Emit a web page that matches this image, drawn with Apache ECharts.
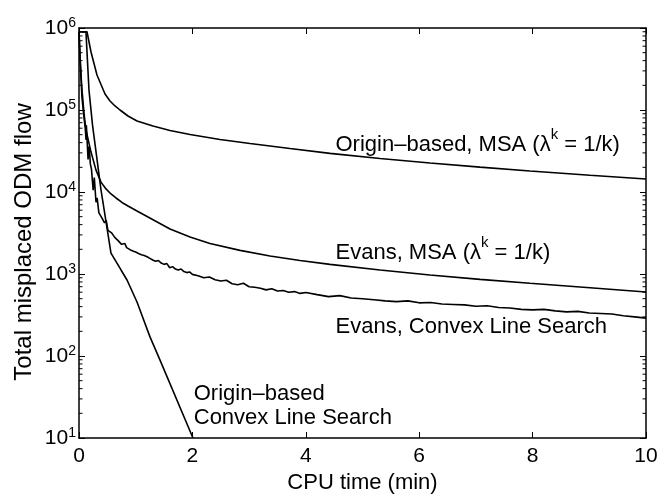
<!DOCTYPE html>
<html><head><meta charset="utf-8">
<script src="https://cdn.jsdelivr.net/npm/echarts@6/dist/echarts.min.js"></script>
<style>html,body{margin:0;padding:0;background:#fff}#c{width:659px;height:494px}</style>
</head><body><div id="c"></div>
<script>
// ---- axis ticks ----
const xTicks = [0, 2, 4, 6, 8, 10];
const yDecades = [10, 100, 1000, 10000, 100000, 1000000];
const minorMultipliers = [2, 3, 4, 5, 6, 7, 8, 9];

// ---- series: [CPU time (min), total misplaced ODM flow] ----
const originMSA = [[0,900000],[0.141,900000],[0.212,510000],[0.317,267000],[0.459,156700],[0.547,128800],
  [0.635,111900],[0.723,100000],[0.864,84500],[1.023,73400],[1.305,63800],[1.605,56200],[1.958,50300],
  [2.487,43700],[3.016,39000],[3.721,33900],[4.427,29600],[5.309,25600],[6.19,22600],[7.072,20100],
  [7.954,18000],[9.012,16000],[10,14400]];

const evansMSA = [[0,900000],[0.0176,469000],[0.0353,267000],[0.0529,175000],[0.0882,91900],[0.123,57000],
  [0.212,30700],[0.300,18500],[0.388,13200],[0.476,10900],[0.564,9460],[0.653,8450],[0.758,7450],
  [0.864,6750],[1.023,5860],[1.605,3540],[1.958,2820],[2.31,2350],[2.84,1940],[3.369,1660],[3.898,1460],
  [4.427,1310],[5.309,1120],[6.19,973],[7.072,861],[7.954,770],[9.012,679],[10,603]];

const originCLS = [[0,900000],[0.123,890000],[0.176,175000],[0.238,66000],[0.388,10600],[0.564,1800],
  [0.741,1120],[0.847,845],[1.023,456],[1.252,171],[1.429,89],[2.01,10]];

const evansCLS = [[0,900000],[0.02,410000],[0.05,150000],[0.08,90000],[0.11,60000],[0.125,43000],[0.13,65000],
  [0.16,25000],[0.18,36000],[0.20,22000],[0.22,19000],[0.25,10500],[0.27,15000],[0.30,7500],[0.32,8500],
  [0.35,5600],[0.38,5900],[0.42,4600],[0.45,4200],[0.48,4500],[0.51,3400],[0.54,3500],[0.57,3200],
  [0.60,3000],[0.63,2800],[0.66,2900],[0.69,2550],[0.72,2600],[0.75,2300],[0.78,2250],[0.81,2350],
  [0.84,2100],[0.87,2150],[0.90,1980],[0.93,2050],[0.96,1900],[1.00,1850],[1.05,1780],[1.10,1720],
  [1.15,1680],[1.20,1620],[1.25,1550],[1.30,1480],[1.35,1430],[1.40,1460],[1.45,1360],[1.50,1310],
  [1.55,1340],[1.60,1190],[1.65,1230],[1.70,1150],[1.75,1120],[1.80,1150],[1.85,1070],[1.90,1040],
  [1.95,1060],[2.00,990],[2.1,950],[2.2,900],[2.3,920],[2.4,850],[2.5,820],[2.6,840],[2.7,760],
  [2.8,740],[2.9,770],[3.0,700],[3.1,690],[3.2,670],[3.3,640],[3.4,660],[3.5,620],[3.6,630],[3.7,600],
  [3.8,610],[3.9,580],[4.0,595],[4.2,560],[4.4,530],[4.6,545],[4.8,510],[5.0,500],[5.2,485],[5.4,470],
  [5.6,460],[5.8,470],[6.0,445],[6.2,450],[6.4,430],[6.6,425],[6.8,420],[7.0,405],[7.2,410],[7.4,390],
  [7.6,385],[7.8,370],[8.0,365],[8.2,370],[8.4,355],[8.6,345],[8.8,350],[9.0,335],[9.2,330],[9.4,325],
  [9.6,310],[9.8,300],[10.0,290]];

// ---- annotation anchors (data coordinates) ----
const labelOriginMSA = [4.515, 37400];
const labelEvansMSA = [4.515, 1786];
const labelEvansCLS = [4.515, 226];
const labelOriginCLS = [2.015, 24.5];

const FONT = 'Liberation Sans, Arial, Helvetica, sans-serif';
const minorTickValues = [];
yDecades.slice(0, -1).forEach(d => minorMultipliers.forEach(m => minorTickValues.push([0, d * m])));

const annRich = {
  t: { fontSize: 22, fontFamily: FONT, color: '#000', lineHeight: 36 },
  s: { fontSize: 15, fontFamily: FONT, color: '#000', lineHeight: 14, verticalAlign: 'top' }
};
function mark(coord, text, rich) {
  return {
    symbol: 'circle', symbolSize: 1, silent: true,
    itemStyle: { color: 'rgba(0,0,0,0)' },
    label: { show: true, position: 'right', distance: 0, formatter: text, rich: rich, color: '#000' },
    data: [{ coord: coord }]
  };
}
function line(name, data, ann) {
  return {
    name: name, type: 'line', data: data, showSymbol: false, symbol: 'none', smooth: false,
    lineStyle: { color: '#000', width: 1.6 }, itemStyle: { color: '#000' },
    markPoint: ann, z: 3
  };
}

const axisCommonX = { type: 'value', min: 0, max: 10, interval: 2, splitLine: { show: false } };
const axisCommonY = { type: 'log', logBase: 10, min: 10, max: 1000000, splitNumber: 5, splitLine: { show: false } };

const chart = echarts.init(document.getElementById('c'), null, { renderer: 'canvas' });
chart.setOption({
  animation: false,
  backgroundColor: '#fff',
  grid: { left: 79, right: 13, top: 28, bottom: 56, containLabel: false, outerBoundsMode: 'none' },
  xAxis: [
    Object.assign({}, axisCommonX, {
      position: 'bottom',
      axisLine: { show: true, lineStyle: { color: '#000', width: 1.5 } },
      axisTick: { show: true, inside: true, length: 6, lineStyle: { color: '#000', width: 1 } },
      axisLabel: { color: '#000', fontSize: 21, fontFamily: FONT, margin: 8, customValues: xTicks },
      name: 'CPU time (min)', nameLocation: 'middle', nameGap: 27,
      nameTextStyle: { color: '#000', fontSize: 22, fontFamily: FONT }
    }),
    Object.assign({}, axisCommonX, {
      position: 'top',
      axisLine: { show: true, onZero: false, lineStyle: { color: '#000', width: 1.5 } },
      axisTick: { show: true, inside: true, length: 6, lineStyle: { color: '#000', width: 1 } },
      axisLabel: { show: false }
    })
  ],
  yAxis: [
    Object.assign({}, axisCommonY, {
      position: 'left',
      axisLine: { show: true, onZero: false, lineStyle: { color: '#000', width: 1.5 } },
      axisTick: { show: true, inside: true, length: 6, lineStyle: { color: '#000', width: 1 } },
      axisLabel: {
        color: '#000', margin: 3,
        formatter: v => '{b|10}{s|' + Math.round(Math.log10(v)) + '}',
        rich: {
          b: { fontSize: 21, fontFamily: FONT, color: '#000', lineHeight: 24 },
          s: { fontSize: 14, fontFamily: FONT, color: '#000', lineHeight: 14, verticalAlign: 'top' }
        }
      }
    }),
    Object.assign({}, axisCommonY, {
      position: 'right',
      axisLine: { show: true, onZero: false, lineStyle: { color: '#000', width: 1.5 } },
      axisTick: { show: true, inside: true, length: 6, lineStyle: { color: '#000', width: 1 } },
      axisLabel: { show: false }
    })
  ],
  graphic: [{
    type: 'text', x: 24, y: 242, rotation: Math.PI / 2,
    style: { text: 'Total misplaced ODM flow', font: '24px ' + FONT, fill: '#000',
      textAlign: 'center', textVerticalAlign: 'middle' }
  }],
  series: [
    line('Origin-based, MSA', originMSA,
      mark(labelOriginMSA, '{t|Origin–based, MSA (λ}{s|k}{t| = 1/k)}', annRich)),
    line('Evans, MSA', evansMSA,
      mark(labelEvansMSA, '{t|Evans, MSA (λ}{s|k}{t| = 1/k)}', annRich)),
    line('Evans, Convex Line Search', evansCLS,
      mark(labelEvansCLS, '{t|Evans, Convex Line Search}', annRich)),
    line('Origin-based, Convex Line Search', originCLS,
      mark(labelOriginCLS, '{t|Origin–based}\n{t|Convex Line Search}',
        { t: { fontSize: 22, fontFamily: FONT, color: '#000', lineHeight: 24, align: 'left' } })),
    {
      type: 'custom', name: 'minorTicks', data: minorTickValues, silent: true, clip: false, z: 4,
      renderItem: function (params, api) {
        const v = api.value(1);
        const l = api.coord([0, v]);
        const r = api.coord([10, v]);
        return {
          type: 'group', children: [
            { type: 'line', shape: { x1: l[0], y1: l[1], x2: l[0] + 3.5, y2: l[1] }, style: { stroke: '#000', lineWidth: 1 } },
            { type: 'line', shape: { x1: r[0] - 3.5, y1: r[1], x2: r[0], y2: r[1] }, style: { stroke: '#000', lineWidth: 1 } }
          ]
        };
      }
    }
  ]
});
</script>
</body></html>
